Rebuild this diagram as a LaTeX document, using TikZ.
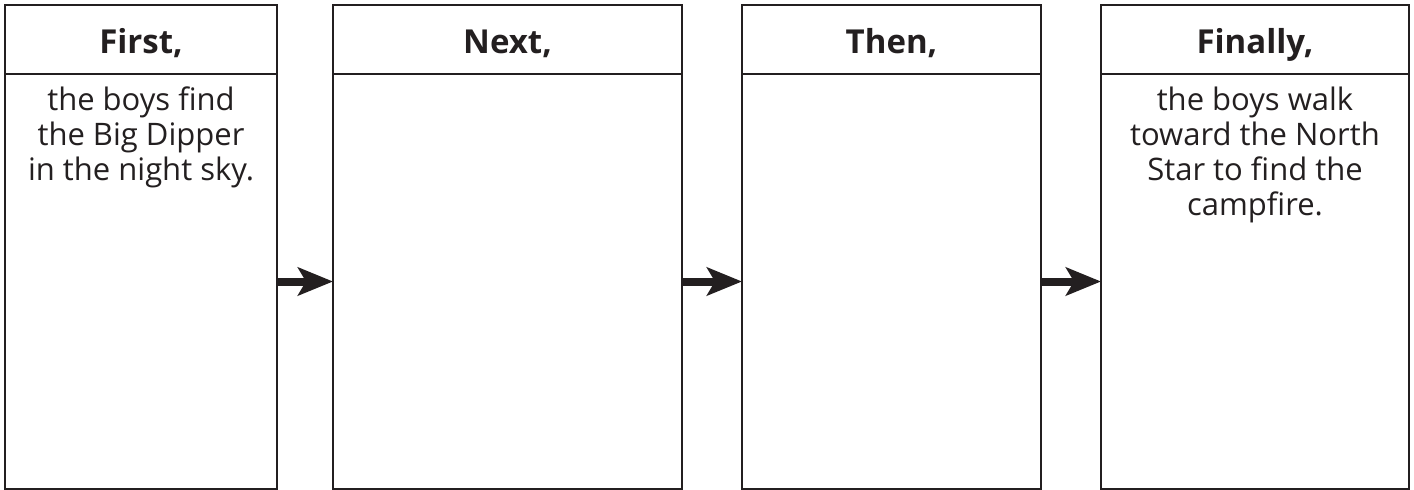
\documentclass[tikz,border=0pt]{standalone}
\usepackage{fontspec}
\setmainfont{Open Sans}
\usetikzlibrary{arrows.meta,positioning}
\definecolor{ink}{RGB}{35,31,32}
\tikzset{
  fc/head/.style={draw=ink, line width=2.5pt, anchor=north west, minimum height=69pt, inner sep=0pt, outer sep=0pt, text height=27pt, text depth=0pt, font=\fontsize{33}{38}\selectfont\bfseries, text=ink},
  fc/body/.style={draw=ink, line width=2.5pt, anchor=north, minimum height=415pt, inner sep=0pt, outer sep=0pt},
  fc/text/.style={anchor=north, align=center, inner sep=0pt, font=\fontsize{31}{35}\selectfont, text=ink},
  fc/arrow/.style={draw=ink, line width=8pt, -{Stealth[length=35pt, width=28pt, inset=8pt]}}
}

\begin{document}
\begin{tikzpicture}[x=1pt, y=-1pt]
  \useasboundingbox (0,0) rectangle (1414,490);

  \node[fc/head, minimum width=272pt] (h1) at (5,5) {First,};
  \node[fc/head, minimum width=349pt] (h2) at (333,5) {Next,};
  \node[fc/head, minimum width=299pt] (h3) at (742,5) {Then,};
  \node[fc/head, minimum width=308pt] (h4) at (1101,5) {Finally,};

  \node[fc/body, minimum width=272pt] (b1) at (h1.south) {};
  \node[fc/body, minimum width=349pt] (b2) at (h2.south) {};
  \node[fc/body, minimum width=299pt] (b3) at (h3.south) {};
  \node[fc/body, minimum width=308pt] (b4) at (h4.south) {};

  \node[fc/text, below=13pt of b1.north] (t1) {the boys find\\the Big Dipper\\in the night sky.};
  \node[fc/text, below=13pt of b4.north] (t4) {the boys walk\\toward the North\\Star to find the\\campfire.};

  \draw[fc/arrow] (b1) -- (b2);
  \draw[fc/arrow] (b2) -- (b3);
  \draw[fc/arrow] (b3) -- (b4);
\end{tikzpicture}
\end{document}
